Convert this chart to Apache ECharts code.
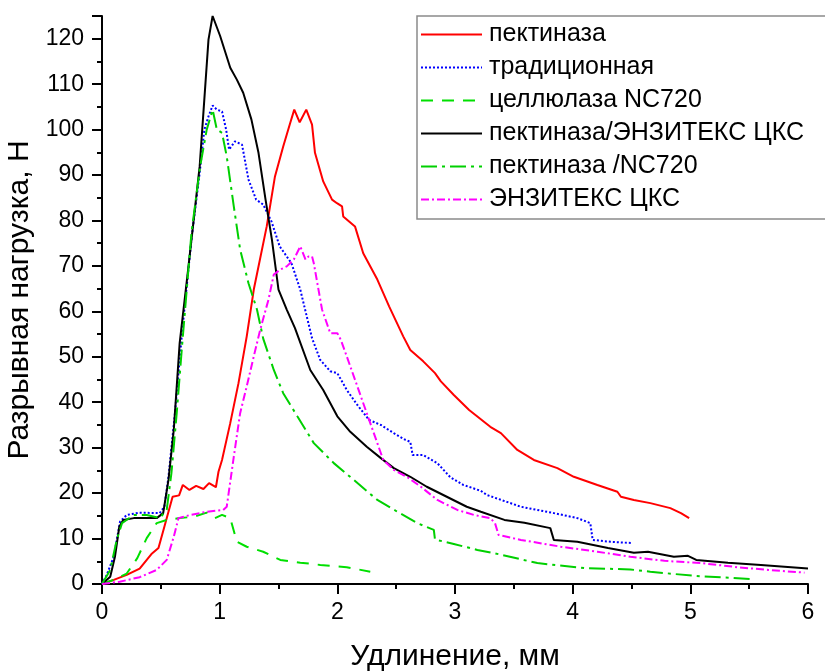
<!DOCTYPE html>
<html><head><meta charset="utf-8">
<script src="https://cdn.jsdelivr.net/npm/echarts@6/dist/echarts.min.js"></script>
<style>html,body{margin:0;padding:0;background:#fff}#c{width:825px;height:671px}</style>
</head><body><div id="c"></div>
<script>
// Series names (legend)
const seriesNames = ['пектиназа', 'традиционная', 'целлюлаза NC720', 'пектиназа/ЭНЗИТЕКС ЦКС', 'пектиназа /NC720', 'ЭНЗИТЕКС ЦКС'];

// [elongation mm, load N]
const pectinase = [[0,0],[0.10,0.9],[0.21,2.0],[0.32,3.4],[0.42,6.6],[0.48,7.9],[0.53,12.6],[0.60,19.2],[0.655,19.5],[0.687,21.8],[0.743,20.7],[0.80,21.6],[0.862,20.9],[0.91,22.2],[0.968,21.3],[0.99,24.7],[1.02,27.3],[1.09,35.4],[1.16,44.2],[1.23,54.5],[1.29,64.8],[1.40,78.7],[1.47,89.7],[1.54,96.3],[1.60,101.5],[1.634,104.4],[1.68,101.6],[1.736,104.4],[1.785,101.1],[1.81,94.9],[1.88,88.6],[1.955,84.6],[1.997,83.8],[2.04,83.1],[2.05,80.9],[2.15,78.7],[2.22,72.8],[2.34,67.0],[2.44,61.1],[2.56,54.5],[2.62,51.5],[2.73,49.0],[2.83,46.4],[2.88,44.6],[2.99,41.6],[3.12,38.3],[3.30,34.6],[3.39,33.2],[3.53,29.5],[3.67,27.3],[3.87,25.5],[4.01,23.6],[4.21,21.8],[4.38,20.3],[4.41,19.2],[4.52,18.5],[4.66,17.8],[4.83,16.7],[4.92,15.6],[4.99,14.5]];

const traditional = [[0,0],[0.04,2.0],[0.10,6.0],[0.153,13.7],[0.21,15.2],[0.32,15.7],[0.49,15.6],[0.53,17.0],[0.565,23.6],[0.62,37.6],[0.68,55.2],[0.76,75.8],[0.83,90.5],[0.87,100],[0.905,102.9],[0.94,105.3],[0.976,104.4],[1.02,104],[1.055,100],[1.08,95.6],[1.13,97.4],[1.19,96.7],[1.245,89.0],[1.31,84.6],[1.37,83.5],[1.44,79.8],[1.51,74.3],[1.61,70.6],[1.685,64.8],[1.74,58.9],[1.785,54.1],[1.855,49.3],[1.94,46.8],[2.0,46.4],[2.08,42.7],[2.17,39.4],[2.27,36.1],[2.37,35.0],[2.48,33.2],[2.58,31.7],[2.62,31.3],[2.64,28.4],[2.73,28.4],[2.85,26.6],[2.96,23.5],[3.07,21.8],[3.22,20.5],[3.27,19.6],[3.56,17.0],[3.84,15.6],[4.04,14.5],[4.15,13.4],[4.17,9.7],[4.32,9.3],[4.51,9.0]];

const cellulaseNC720 = [[0,0],[0.10,0.9],[0.21,2.3],[0.30,5.7],[0.38,10.1],[0.465,13.4],[0.55,14.1],[0.66,14.5],[0.78,14.8],[0.89,15.7],[0.96,14.5],[1.02,15.2],[1.09,14.5],[1.146,9.3],[1.23,8.2],[1.37,7.1],[1.515,5.3],[1.685,4.7],[1.855,4.2],[2.08,3.7],[2.28,2.7]];

const pectinaseEnzitex = [[0,0],[0.07,1.6],[0.11,6.0],[0.147,12.6],[0.18,14.1],[0.27,14.5],[0.465,14.5],[0.52,15.6],[0.565,22.9],[0.61,33.9],[0.66,53.0],[0.735,69.9],[0.83,91.9],[0.905,119.8],[0.94,125],[1.004,120.6],[1.09,113.6],[1.146,111.0],[1.20,108.1],[1.27,102.2],[1.33,94.9],[1.39,84.6],[1.444,75.8],[1.50,64.8],[1.57,60.4],[1.64,56.3],[1.77,47.1],[1.88,42.7],[2.0,36.9],[2.11,33.5],[2.25,30.2],[2.37,27.7],[2.48,25.5],[2.62,23.6],[2.76,21.4],[2.93,19.2],[3.10,17.0],[3.22,15.9],[3.42,14.1],[3.59,13.5],[3.81,12.3],[3.84,9.7],[4.04,9.3],[4.30,7.9],[4.52,6.9],[4.64,7.1],[4.86,6.0],[4.98,6.2],[5.05,5.3],[5.32,4.7],[5.60,4.2],[6.0,3.4]];

const pectinaseNC720 = [[0,0],[0.07,3.1],[0.125,9.7],[0.17,13.4],[0.27,15.2],[0.38,15.2],[0.49,14.5],[0.55,16.3],[0.59,24.4],[0.635,37.6],[0.68,52.3],[0.76,77.2],[0.834,91.9],[0.89,100],[0.94,104.4],[0.976,100],[1.02,99.3],[1.06,94.1],[1.12,83.1],[1.174,73.6],[1.245,66.2],[1.317,60.4],[1.37,54.0],[1.46,47.1],[1.54,42.0],[1.66,36.9],[1.80,31.0],[1.97,26.6],[2.14,22.9],[2.34,18.5],[2.51,15.9],[2.68,13.4],[2.82,11.9],[2.83,9.8],[2.99,8.8],[3.19,7.5],[3.33,6.8],[3.70,4.6],[4.10,3.5],[4.49,3.2],[4.66,2.7],[5.03,1.8],[5.51,1.1]];

const enzitex = [[0,0],[0.15,0.5],[0.32,1.5],[0.465,3.1],[0.55,5.3],[0.61,10.4],[0.65,14.5],[0.75,15.2],[0.89,15.9],[1.03,16.3],[1.06,17.0],[1.12,28.0],[1.174,37.6],[1.23,43.5],[1.29,50.1],[1.345,56.0],[1.415,62.6],[1.46,68.1],[1.515,69.2],[1.57,69.9],[1.63,71.4],[1.685,74.3],[1.73,71.4],[1.756,72.1],[1.785,72.1],[1.80,70.6],[1.83,66.2],[1.87,60.4],[1.94,55.2],[2.0,55.2],[2.03,53.7],[2.08,50.1],[2.17,43.5],[2.25,37.6],[2.34,31.0],[2.39,27.3],[2.48,25.1],[2.59,23.6],[2.71,21.4],[2.85,18.5],[3.02,16.3],[3.16,15.2],[3.30,14.5],[3.34,13.4],[3.37,10.8],[3.56,9.7],[3.90,8.2],[4.21,7.1],[4.49,6.0],[4.78,5.1],[5.09,4.6],[5.40,3.7],[5.66,3.1],[5.97,2.5]];

const xAxisTitle = 'Удлинение, мм';
const yAxisTitle = 'Разрывная нагрузка, Н';

const font = '"Liberation Sans", Arial, sans-serif';
const seriesData = [pectinase, traditional, cellulaseNC720, pectinaseEnzitex, pectinaseNC720, enzitex];
const styles = [
  {color:'#ff0000', type:'solid'},
  {color:'#0000ff', type:[2,2]},
  {color:'#00e000', type:[12,9]},
  {color:'#000000', type:'solid'},
  {color:'#00d000', type:[16,5,3,5]},
  {color:'#ff00ff', type:[8,3,2,3]}
];

const chart = echarts.init(document.getElementById('c'), null, {renderer:'canvas'});
const axisCommon = {
  axisLine:{show:true, onZero:false, lineStyle:{color:'#000', width:2}},
  axisTick:{show:true, inside:false, length:10, lineStyle:{color:'#000', width:2}},
  minorTick:{show:true, splitNumber:2, length:5, lineStyle:{color:'#000', width:2}},
  splitLine:{show:false},
  minorSplitLine:{show:false},
  nameLocation:'middle',
  nameTextStyle:{fontSize:30, color:'#000', fontFamily:font}
};
chart.setOption({
  animation:false,
  backgroundColor:'#fff',
  grid:{left:102, right:17, top:16, bottom:87, containLabel:false, outerBoundsMode:'none'},
  xAxis: Object.assign({}, axisCommon, {
    type:'value', min:0, max:6, interval:1,
    name:xAxisTitle, nameGap:58,
    axisLabel:{fontSize:23, color:'#000', margin:17, fontFamily:font}
  }),
  yAxis: Object.assign({}, axisCommon, {
    type:'value', min:0, max:125, interval:10,
    name:yAxisTitle, nameGap:66, nameRotate:90,
    axisLabel:{fontSize:23, color:'#000', margin:18, fontFamily:font, showMaxLabel:false}
  }),
  legend:{
    orient:'vertical', left:417, top:16,
    padding:[6,50,7,3],
    itemWidth:61, itemHeight:14, itemGap:8,
    borderColor:'#8a8a8a', borderWidth:1.5, backgroundColor:'#fff',
    itemStyle:{opacity:0},
    textStyle:{fontSize:25, lineHeight:25, color:'#000', fontFamily:font, padding:[0,0,0,2]},
    data: seriesNames
  },
  series: seriesData.map((d,i)=>({
    name: seriesNames[i], type:'line', data:d, symbol:'none', showSymbol:false,
    color: styles[i].color,
    lineStyle:{color:styles[i].color, width:2, type:styles[i].type},
    z: 2
  }))
});
</script>
</body></html>
